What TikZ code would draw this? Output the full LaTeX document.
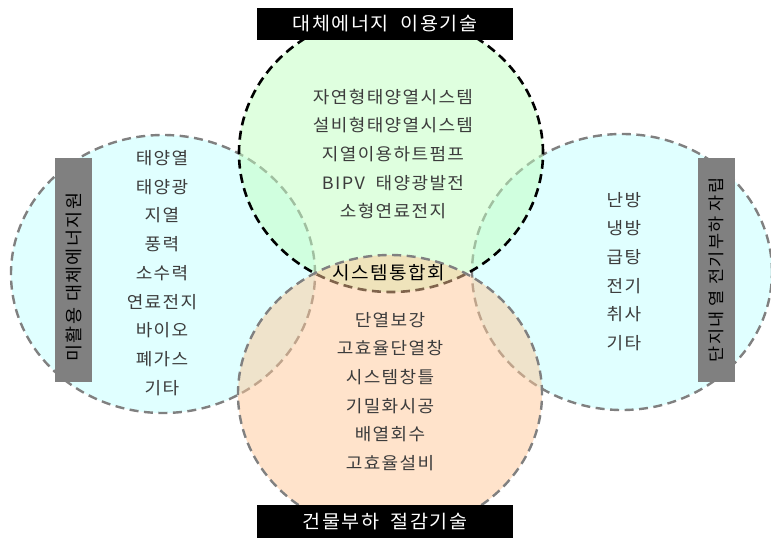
\documentclass[tikz,border=0pt]{standalone}
\usepackage{fontspec}
\setmainfont{Noto Sans CJK KR}[FakeStretch=1.06, LetterSpace=8]
\usetikzlibrary{shapes.geometric}
\definecolor{cy}{RGB}{224,255,255}
\definecolor{gr}{RGB}{193,255,193}
\definecolor{orn}{RGB}{255,201,153}
\definecolor{lgr}{RGB}{128,128,128}
\definecolor{txt}{RGB}{60,60,60}
\begin{document}
\begin{tikzpicture}[x=1pt,y=-1pt,
  venn/.style={ellipse, inner sep=0pt, minimum width=304pt, minimum height=278pt},
  gdash/.style={draw=lgr, line width=2.4pt, dash pattern=on 9pt off 5.5pt},
  bdash/.style={draw=black, line width=2.6pt, dash pattern=on 9pt off 5.5pt},
  item/.style={font=\fontsize{17}{28.7}\selectfont, text=txt, align=center, inner sep=0pt},
  titlebox/.style={fill=black, text=white, minimum width=256pt, minimum height=32pt, inner sep=0pt, font=\fontsize{18.5}{20}\selectfont},
  sidebar/.style={fill=lgr, minimum width=37pt, minimum height=224pt, inner sep=0pt},
  sidetext/.style={text=black, inner sep=0pt, rotate=90, font=\fontsize{17.5}{20}\selectfont}
]
\useasboundingbox[fill=white] (0,0) rectangle (771,538);
% circles
\node[venn, gdash, fill=cy] (leftc) at (163,274) {};
\node[venn, gdash, fill=cy, minimum width=300pt, minimum height=276pt] (rightc) at (622,272) {};
\node[venn, bdash, fill=gr, fill opacity=0.5] (topc) at (391,153) {};
\node[venn, gdash, fill=orn, fill opacity=0.5] (botc) at (390,394) {};
% titles
\node[titlebox] (toptitle) at (385,24) {대체에너지\ \ 이용기술};
\node[titlebox, minimum height=34pt] (bottitle) at (385,522) {건물부하\ \ 절감기술};
\node[sidebar] (leftbar) at (73.5,270) {};
\node[sidetext] (lefttext) at (73.5,277) {미활용\ 대체에너지원};
\node[sidebar] (rightbar) at (716.5,270) {};
\node[sidetext, font=\fontsize{16.5}{20}\selectfont] (righttext) at (716.5,270) {단지내 열 전기부하 자립};
% lists
\node[item] (toplist) at (393,154) {자연형태양열시스템\\설비형태양열시스템\\지열이용하트펌프\\BIPV\ \ 태양광발전\\소형연료전지};
\node[item] (leftlist) at (162,273) {태양열\\태양광\\지열\\풍력\\소수력\\연료전지\\바이오\\폐가스\\기타};
\node[item] (rightlist) at (624,271.5) {난방\\냉방\\급탕\\전기\\취사\\기타};
\node[item] (botlist) at (390,391.5) {단열보강\\고효율단열창\\시스템창틀\\기밀화시공\\배열회수\\고효율설비};
\node[font=\fontsize{18}{20}\selectfont, text=black, inner sep=0pt] (sysint) at (389,273) {시스템통합회};
\end{tikzpicture}
\end{document}
